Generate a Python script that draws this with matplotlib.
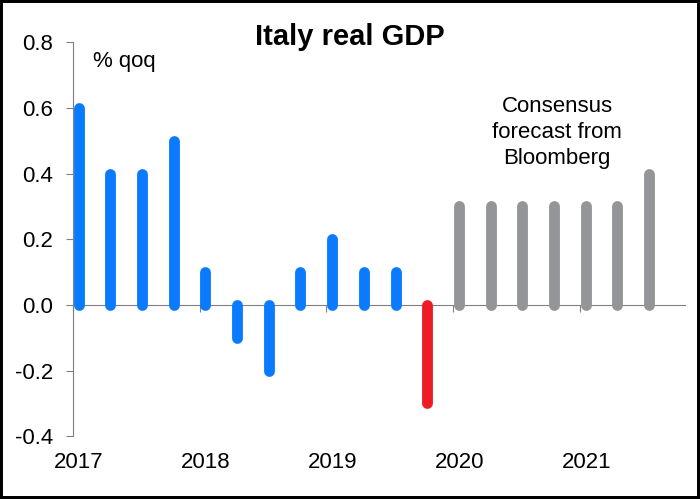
import matplotlib
matplotlib.use("Agg")
import matplotlib.pyplot as plt
from matplotlib.patches import Rectangle
import matplotlib.transforms as mtransforms

plt.rcParams['font.family'] = ['Liberation Sans', 'DejaVu Sans']

# Data: quarterly Italy real GDP % qoq, 2017Q1 .. 2021Q3
quarters = ["2017Q1", "2017Q2", "2017Q3", "2017Q4",
            "2018Q1", "2018Q2", "2018Q3", "2018Q4",
            "2019Q1", "2019Q2", "2019Q3", "2019Q4",
            "2020Q1", "2020Q2", "2020Q3", "2020Q4",
            "2021Q1", "2021Q2", "2021Q3"]
values = [0.6, 0.4, 0.4, 0.5,
          0.1, -0.1, -0.2, 0.1,
          0.2, 0.1, 0.1, -0.3,
          0.3, 0.3, 0.3, 0.3,
          0.3, 0.3, 0.4]
kind = ["actual"] * 11 + ["latest"] + ["forecast"] * 7
year_ticks = [2017, 2018, 2019, 2020, 2021]
year_labels = ["2017", "2018", "2019", "2020", "2021"]
y_ticks = [-0.4, -0.2, 0.0, 0.2, 0.4, 0.6, 0.8]

colors = {"actual": "#0A7BFF", "latest": "#ED1C24", "forecast": "#939598"}

def qpos(q):
    y, n = int(q[:4]), int(q[-1])
    return y + (n - 1) / 4 + 0.045

fig = plt.figure(figsize=(7.0, 4.99), dpi=100)
ax = fig.add_axes([0.104, 0.126, 0.875, 0.789])

xs = [qpos(q) for q in quarters]
for x, v, k in zip(xs, values, kind):
    lc = ax.vlines(x, 0, v, colors=colors[k], linewidth=7.8)
    lc.set_capstyle('round')

ax.set_xlim(2017.0, 2021.83)
ax.set_ylim(-0.4, 0.8)

ax.spines['top'].set_visible(False)
ax.spines['right'].set_visible(False)
ax.spines['left'].set_color('#808080')
ax.spines['bottom'].set_color('#808080')
ax.spines['bottom'].set_position(('data', 0))
ax.spines['bottom'].set_zorder(0)

ax.set_yticks(y_ticks)
ax.set_yticklabels([f"{t:.1f}" for t in y_ticks], fontsize=16)
ax.tick_params(axis='y', direction='out', length=5, color='#808080', pad=9)

ax.set_xticks(year_ticks)
ax.set_xticklabels([])
ax.tick_params(axis='x', direction='out', length=5, color='#808080')

trans = mtransforms.blended_transform_factory(ax.transData, ax.transAxes)
for t, lab in zip(year_ticks, year_labels):
    ax.text(t + 0.05, -0.066, lab, transform=trans, ha='center', va='center', fontsize=16)

ax.text(0.5, 0.926, "Italy real GDP", transform=fig.transFigure, ha='center', va='center',
        fontsize=21, fontweight='bold')
ax.text(2017.16, 0.742, "% qoq", ha='left', va='center', fontsize=16)
ax.text(2020.82, 0.525, "Consensus\nforecast from\nBloomberg", ha='center', va='center',
        fontsize=16, linespacing=1.3)

fig.patches.append(Rectangle((0, 0), 1, 1, transform=fig.transFigure, fill=False,
                             edgecolor='black', linewidth=4.3))

fig.savefig("out.png", dpi=100)
